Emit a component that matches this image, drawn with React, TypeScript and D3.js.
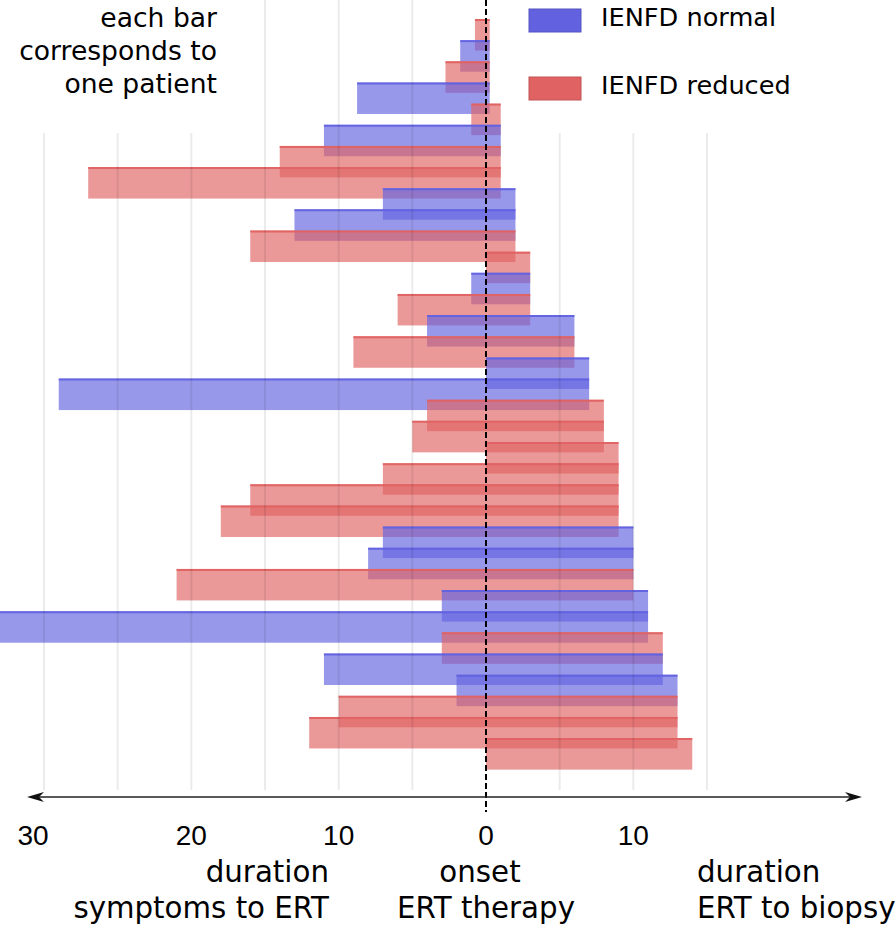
import React from "react";
import * as d3 from "d3";

// ---- data (years) ----
const symptomsToErt = [0.75, 1.75, 2.75, 8.75, 1, 11, 14, 27, 7, 13, 16, 0, 1, 6, 4, 9, 0, 29, 4, 5, 0, 7, 16, 18, 7, 8, 21, 3, 33, 3, 11, 2, 10, 12, 0];
const ertToBiopsy = [0.25, 0.25, 0.25, 0.25, 1, 1, 1, 1, 2, 2, 2, 3, 3, 3, 6, 6, 7, 7, 8, 8, 9, 9, 9, 9, 10, 10, 10, 11, 11, 12, 12, 13, 13, 13, 14];
const ienfdStatus = [
  "reduced", "normal", "reduced", "normal", "reduced", "normal", "reduced", "reduced",
  "normal", "normal", "reduced", "reduced", "normal", "reduced", "normal", "reduced",
  "normal", "normal", "reduced", "reduced", "reduced", "reduced", "reduced", "reduced",
  "normal", "normal", "reduced", "normal", "normal", "reduced", "normal", "normal",
  "reduced", "reduced", "reduced",
];
const tickValues = [-30, -20, -10, 0, 10];
const gridValues = [-30, -25, -20, -15, -10, -5, 5, 10, 15];
const legendItems = [
  { key: "normal", label: "IENFD normal" },
  { key: "reduced", label: "IENFD reduced" },
];

const colorOf: Record<string, string> = { normal: "#6262e0", reduced: "#e06262" };

export default function App() {
  const W = 896;
  const H = 925;
  const x = d3.scaleLinear().domain([-30, 15]).range([44, 707]);
  const idx = d3.range(symptomsToErt.length);
  const y = d3.scaleBand<number>().domain(idx).range([19, 19 + idx.length * 21.15]).paddingInner(0);
  const barH = y.step() * 1.49;
  const textFont = "'DejaVu Sans', Verdana, sans-serif";
  const numFont = "'Liberation Sans', Arial, sans-serif";
  const axisY = 797;

  return (
    <svg width={W} height={H} style={{ position: "absolute", left: 0, top: 0, background: "#fff" }}>
      <rect x={0} y={0} width={W} height={H} fill="#fff" />
      {/* bars */}
      <g>
        {idx.map((i) => {
          const c = colorOf[ienfdStatus[i]];
          const x0 = x(-symptomsToErt[i]);
          const x1 = x(ertToBiopsy[i]);
          const top = y(i) as number;
          return (
            <g key={i}>
              <rect x={x0} y={top} width={x1 - x0} height={barH} fill={c} fillOpacity={0.66} />
              <line x1={x0} x2={x1} y1={top + 1} y2={top + 1} stroke={c} strokeWidth={2} strokeOpacity={0.95} />
            </g>
          );
        })}
      </g>
      {/* grid */}
      <g>
        {gridValues.map((v) => (
          <line key={v} x1={x(v)} x2={x(v)} y1={0} y2={790} stroke="#000" strokeOpacity={0.08} strokeWidth={2} />
        ))}
      </g>
      {/* white boxes behind annotations */}
      <rect x={0} y={0} width={232} height={133} fill="#fff" />
      <rect x={520} y={0} width={W - 520} height={133} fill="#fff" />
      {/* annotation */}
      <g fontFamily={textFont} fontSize={26.6} fill="#000" textAnchor="end">
        <text x={217} y={27}>each bar</text>
        <text x={217} y={60}>corresponds to</text>
        <text x={217} y={93}>one patient</text>
      </g>
      {/* legend */}
      <g fontFamily={textFont} fontSize={25.6} fill="#000">
        {legendItems.map((it, k) => (
          <g key={it.key} transform={`translate(529, ${9 + k * 68})`}>
            <rect x={0} y={0} width={52} height={23} fill={colorOf[it.key]} stroke={d3.color(colorOf[it.key])!.darker(0.4).toString()} strokeWidth={1} />
            <text x={72} y={17}>{it.label}</text>
          </g>
        ))}
      </g>
      {/* zero dashed line */}
      <line x1={x(0)} x2={x(0)} y1={0} y2={812} stroke="#000" strokeWidth={2} strokeDasharray="6,3" />
      {/* axis with arrows */}
      <g>
        <line x1={32} x2={856} y1={axisY} y2={axisY} stroke="#222" strokeWidth={1.5} />
        <path d={`M27,${axisY} L44,${axisY - 5} L39,${axisY} L44,${axisY + 5} Z`} fill="#111" />
        <path d={`M862,${axisY} L845,${axisY - 5} L850,${axisY} L845,${axisY + 5} Z`} fill="#111" />
      </g>
      {/* tick labels */}
      <g fontFamily={numFont} fontSize={28} fill="#000" textAnchor="middle">
        {tickValues.map((v) => (
          <text key={v} x={x(v)} dx={v === -30 ? -11 : 0} y={845}>{Math.abs(v)}</text>
        ))}
      </g>
      {/* axis captions */}
      <g fontFamily={textFont} fontSize={29.3} fill="#000">
        <text x={329} y={882} textAnchor="end">duration</text>
        <text x={329} y={918} textAnchor="end">symptoms to ERT</text>
        <text x={x(0) - 6} y={882} textAnchor="middle">onset</text>
        <text x={x(0)} y={918} textAnchor="middle">ERT therapy</text>
        <text x={697} y={882} textAnchor="start">duration</text>
        <text x={697} y={918} textAnchor="start">ERT to biopsy</text>
      </g>
    </svg>
  );
}
